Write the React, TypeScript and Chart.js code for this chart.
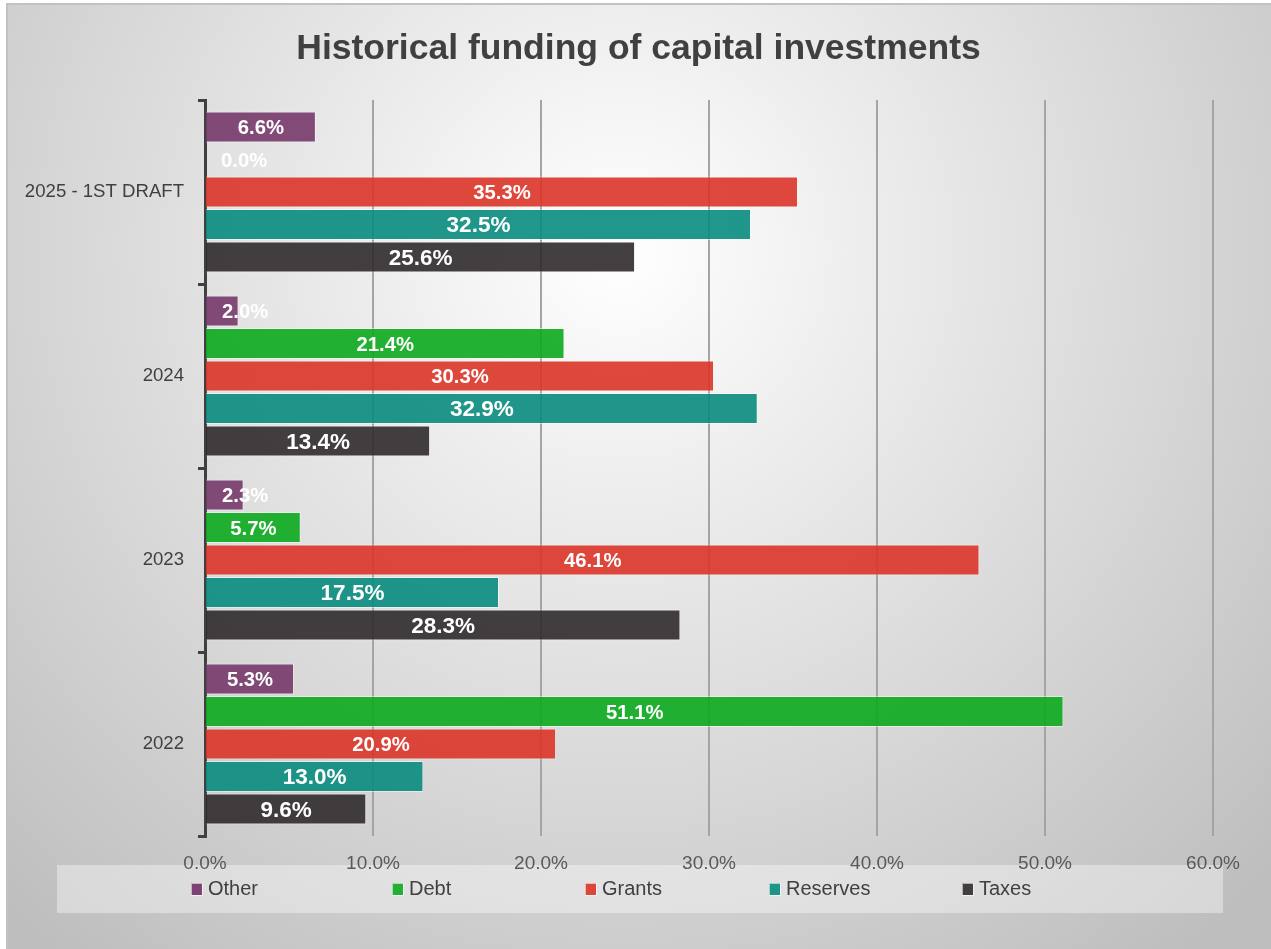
import React, { useEffect, useRef } from 'react';
import { Chart, registerables } from 'chart.js';

Chart.register(...registerables);

const TITLE = 'Historical funding of capital investments';
const CATEGORIES = ['2025 - 1ST DRAFT', '2024', '2023', '2022'];
const SERIES = ['Other', 'Debt', 'Grants', 'Reserves', 'Taxes'];
const OTHER = [6.6, 2.0, 2.3, 5.3];
const DEBT = [0.0, 21.4, 5.7, 51.1];
const GRANTS = [35.3, 30.3, 46.1, 20.9];
const RESERVES = [32.5, 32.9, 17.5, 13.0];
const TAXES = [25.6, 13.4, 28.3, 9.6];
const X_MIN = 0;
const X_MAX = 60;
const X_STEP = 10;

const COLORS = [
  'rgba(117,56,106,0.9)',
  'rgba(12,170,31,0.9)',
  'rgba(219,52,40,0.9)',
  'rgba(9,139,125,0.9)',
  'rgba(48,43,44,0.9)',
];
const LEGEND_COLORS = ['#7d4374', '#22b033', '#dc463b', '#1f9488', '#433e3f'];

const FONT = "'Liberation Sans', Arial, sans-serif";

const backgroundPlugin = {
  id: 'bgPlugin',
  beforeDraw(chart: any) {
    const ctx = chart.ctx;
    const W = chart.width;
    const H = chart.height;
    ctx.save();
    ctx.fillStyle = '#ffffff';
    ctx.fillRect(0, 0, W, H);
    const g = ctx.createRadialGradient(620, 250, 0, 620, 250, 900);
    g.addColorStop(0, '#ffffff');
    g.addColorStop(1, '#bebebe');
    ctx.fillStyle = g;
    ctx.fillRect(6, 3, W - 6, H - 3);
    ctx.strokeStyle = '#c2c2c2';
    ctx.lineWidth = 2;
    ctx.beginPath();
    ctx.moveTo(7, H);
    ctx.lineTo(7, 4);
    ctx.lineTo(W, 4);
    ctx.stroke();
    // legend panel
    ctx.fillStyle = 'rgba(255,255,255,0.38)';
    ctx.fillRect(57, 865, 1166, 48);
    ctx.restore();
  },
};

const legendPlugin = {
  id: 'customLegend',
  afterDraw(chart: any) {
    const ctx = chart.ctx;
    const slots = [191, 392, 585, 769, 962];
    ctx.save();
    ctx.font = `20px ${FONT}`;
    ctx.textBaseline = 'middle';
    ctx.textAlign = 'left';
    chart.data.datasets.forEach((ds: any, i: number) => {
      const x = slots[i];
      ctx.fillStyle = LEGEND_COLORS[i];
      ctx.fillRect(x, 883, 11, 12);
      ctx.strokeStyle = 'rgba(255,255,255,0.6)';
      ctx.lineWidth = 1;
      ctx.strokeRect(x + 0.5, 883.5, 11, 12);
      ctx.fillStyle = '#404040';
      ctx.fillText(ds.label, x + 17, 889);
    });
    ctx.restore();
  },
};

const labelPlugin = {
  id: 'barLabels',
  afterDatasetsDraw(chart: any) {
    const ctx = chart.ctx;
    ctx.save();
    ctx.fillStyle = '#ffffff';
    ctx.textAlign = 'center';
    ctx.textBaseline = 'middle';
    chart.data.datasets.forEach((ds: any, i: number) => {
      const meta = chart.getDatasetMeta(i);
      const size = i >= 3 ? 22.5 : 20.3;
      ctx.font = `bold ${size}px ${FONT}`;
      meta.data.forEach((el: any, j: number) => {
        const v = ds.data[j];
        const text = v.toFixed(1) + '%';
        const w = ctx.measureText(text).width;
        const base = el.base;
        const cx = Math.max((el.x + base) / 2, base + 16 + w / 2);
        ctx.fillText(text, cx, el.y + 1.5);
      });
    });
    ctx.restore();
  },
};

export default function App() {
  const ref = useRef<HTMLCanvasElement | null>(null);
  useEffect(() => {
    document.body.style.margin = '0';
    const canvas = ref.current;
    if (!canvas) return;
    const series = [OTHER, DEBT, GRANTS, RESERVES, TAXES];
    const chart = new Chart(canvas, {
      type: 'bar',
      data: {
        labels: CATEGORIES,
        datasets: series.map((d, i) => ({
          label: SERIES[i],
          data: d,
          backgroundColor: COLORS[i],
          borderColor: 'rgba(255,255,255,0.45)',
          borderWidth: 1,
          categoryPercentage: 0.883,
          barPercentage: 0.96,
        })),
      },
      options: {
        indexAxis: 'y',
        animation: false,
        responsive: false,
        devicePixelRatio: 1,
        layout: { padding: { left: 6, right: 0, top: 3, bottom: 0 } },
        plugins: {
          legend: { display: false },
          tooltip: { enabled: false },
          title: {
            display: true,
            text: TITLE,
            color: '#404040',
            font: { family: FONT, size: 35.5, weight: 'bold' },
            padding: { top: 24.7, bottom: 29.7 },
          },
        },
        scales: {
          x: {
            type: 'linear',
            position: 'bottom',
            min: X_MIN,
            max: X_MAX,
            ticks: {
              stepSize: X_STEP,
              color: '#595959',
              font: { family: FONT, size: 19 },
              padding: 16,
              callback: (v: any) => Number(v).toFixed(1) + '%',
            },
            grid: { color: '#a4a4a4', lineWidth: 2, drawTicks: false },
            border: { display: false },
            afterFit: (s: any) => {
              s.height = 113;
            },
          },
          y: {
            type: 'category',
            position: 'left',
            ticks: {
              color: '#404040',
              font: { family: FONT, size: 18.6 },
              padding: 14,
            },
            grid: {
              display: true,
              drawOnChartArea: false,
              drawTicks: true,
              tickLength: 7,
              color: '#404040',
              lineWidth: 3,
              offset: true,
            },
            border: { display: true, color: '#404040', width: 3 },
            afterFit: (s: any) => {
              s.width = 199;
            },
          },
          yRight: {
            type: 'linear',
            position: 'right',
            display: true,
            ticks: { display: false },
            grid: { display: false },
            border: { display: false },
            afterFit: (s: any) => {
              s.width = 58;
            },
          },
        },
      },
      plugins: [backgroundPlugin, labelPlugin, legendPlugin],
    } as any);
    return () => chart.destroy();
  }, []);
  return (
    <div style={{ width: 1271, height: 949 }}>
      <canvas ref={ref} width={1271} height={949} style={{ display: 'block' }} />
    </div>
  );
}
